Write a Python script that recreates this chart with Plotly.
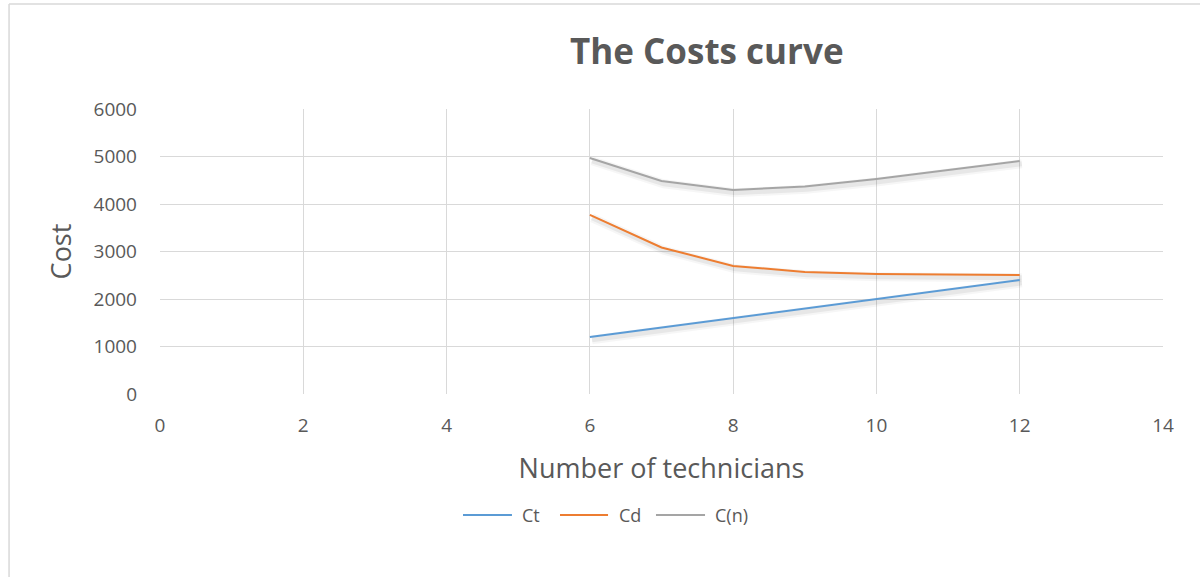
import plotly.graph_objects as go

# Data
technicians = [6, 7, 8, 9, 10, 11, 12]
ct_values = [1200, 1400, 1600, 1800, 2000, 2200, 2400]
cd_values = [3770, 3085, 2697, 2570, 2528, 2514, 2507]
cn_values = [4970, 4485, 4297, 4370, 4528, 4714, 4907]

series_names = ["Ct", "Cd", "C(n)"]
series_colors = ["#5B9BD5", "#ED7D31", "#A5A5A5"]
series_values = [ct_values, cd_values, cn_values]

x_ticks = [0, 2, 4, 6, 8, 10, 12, 14]
y_ticks = [0, 1000, 2000, 3000, 4000, 5000, 6000]

FONT = "Open Sans"
TEXT = "#595959"
GRID = "#D9D9D9"

fig = go.Figure()

# soft drop shadows (derived from the same data, slightly offset)
shadow_dx = 0.03
shadow_dy = -60
for vals in series_values:
    for w, a in ((9, 0.035), (5, 0.06)):
        fig.add_trace(go.Scatter(
            x=[v + shadow_dx for v in technicians],
            y=[v + shadow_dy for v in vals],
            mode="lines",
            line=dict(color=f"rgba(0,0,0,{a})", width=w),
            showlegend=False, hoverinfo="skip",
        ))

for name, color, vals in zip(series_names, series_colors, series_values):
    fig.add_trace(go.Scatter(
        x=technicians, y=vals, mode="lines", name=name,
        line=dict(color=color, width=2),
        showlegend=False,
    ))

# manual legend (Excel-style long line samples)
legend_y = -0.4246
legend_items = [
    (0.3021, 0.3509, 0.3589),
    (0.3988, 0.4467, 0.4556),
    (0.4945, 0.5434, 0.5513),
]
shapes = [
    dict(type="line", xref="paper", yref="paper",
         x0=-0.1505, x1=1.05, y0=1.368, y1=1.368,
         line=dict(color=GRID, width=1.5)),
    dict(type="line", xref="paper", yref="paper",
         x0=-0.1505, x1=-0.1505, y0=1.368, y1=-0.7,
         line=dict(color=GRID, width=1.5)),
]
annotations = []
for (x0, x1, xt), name, color in zip(legend_items, series_names, series_colors):
    shapes.append(dict(type="line", xref="paper", yref="paper",
                       x0=x0, x1=x1, y0=legend_y, y1=legend_y,
                       line=dict(color=color, width=2)))
    annotations.append(dict(xref="paper", yref="paper", x=xt, y=legend_y,
                            xanchor="left", yanchor="middle", showarrow=False,
                            text=name, font=dict(family=FONT, size=18, color=TEXT)))

fig.update_layout(
    width=1200, height=577,
    margin=dict(l=160, r=37, t=109, b=183),
    paper_bgcolor="white", plot_bgcolor="white",
    font=dict(family=FONT, color=TEXT),
    title=dict(
        text="<b>The Costs curve</b>",
        font=dict(family=FONT, size=35, color=TEXT),
        x=0.589, xanchor="center", y=0.91, yanchor="middle",
    ),
    xaxis=dict(
        range=[0, 14], tickvals=x_ticks, ticktext=[str(v) for v in x_ticks],
        showgrid=True, gridcolor=GRID, gridwidth=1,
        zeroline=False, showline=False,
        tickfont=dict(size=19, color=TEXT),
        ticks="", ticklabelstandoff=18,
        title=dict(text="Number of technicians", font=dict(size=27, color=TEXT), standoff=22),
    ),
    yaxis=dict(
        range=[0, 6000], tickvals=y_ticks, ticktext=[str(v) for v in y_ticks],
        showgrid=True, gridcolor=GRID, gridwidth=1,
        zeroline=False, showline=False,
        tickfont=dict(size=19, color=TEXT),
        ticks="", ticklabelstandoff=22,
        title=dict(text="Cost", font=dict(size=27, color=TEXT), standoff=14),
    ),
    showlegend=False,
    shapes=shapes,
    annotations=annotations,
)

fig.write_html("out.html", config={"displayModeBar": False},
               post_script="document.body.style.margin='0';")
